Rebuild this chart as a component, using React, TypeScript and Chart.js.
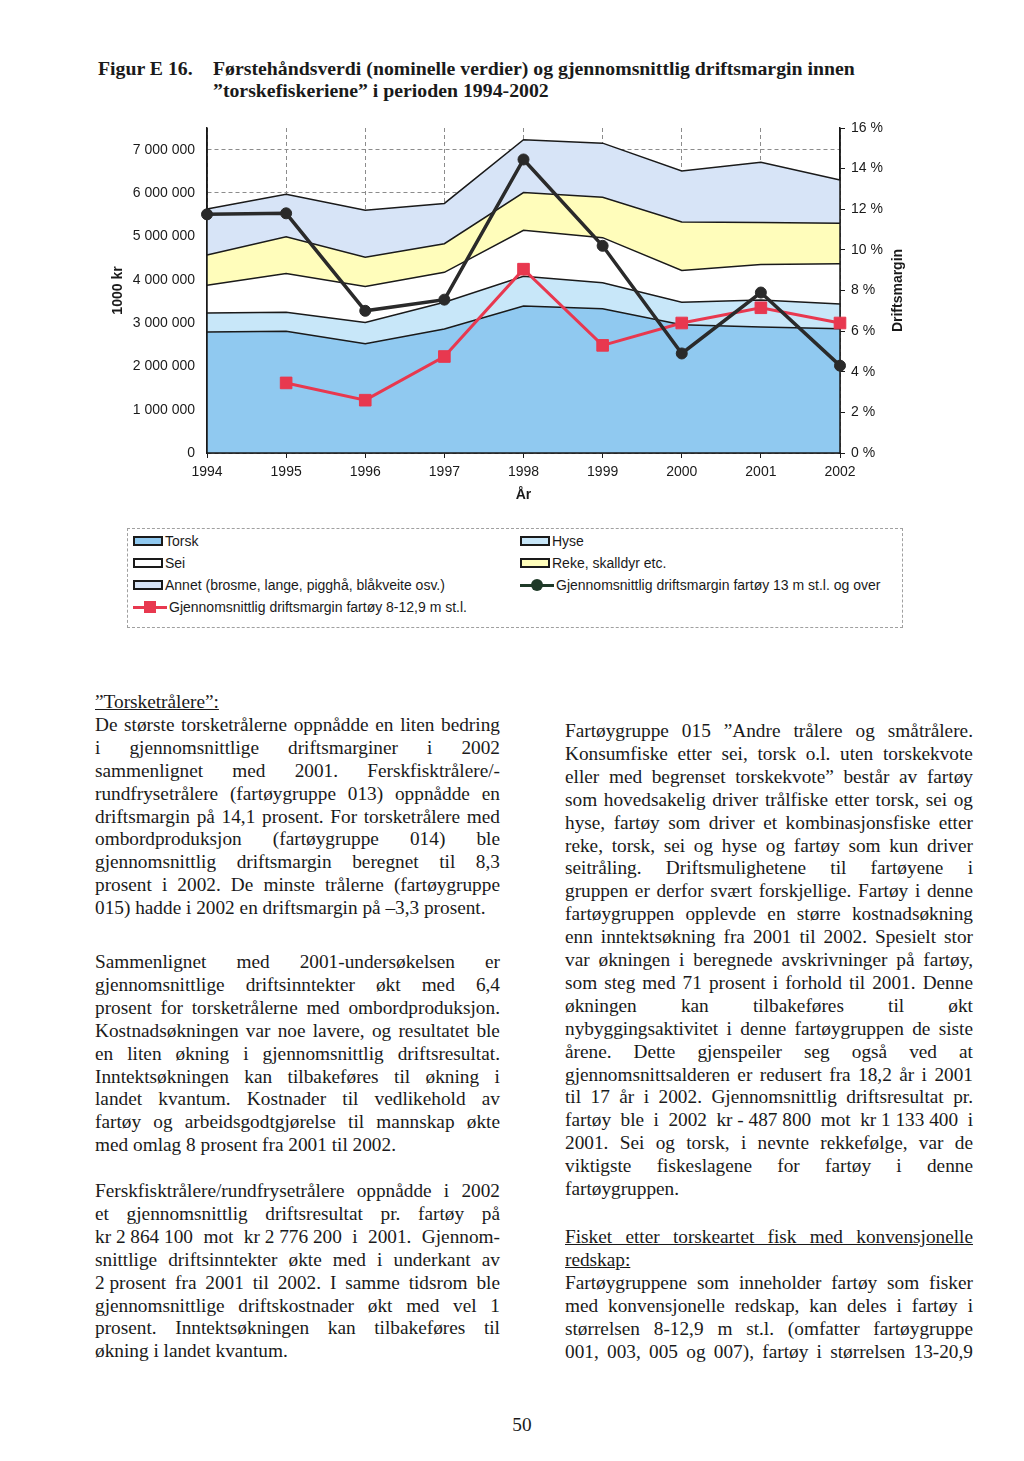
import React, { useEffect, useRef } from "react";
import { Chart, registerables } from "chart.js";

Chart.register(...registerables);

// ---------- DATA ----------
const years = ["1994", "1995", "1996", "1997", "1998", "1999", "2000", "2001", "2002"];
// Førstehåndsverdi, 1000 kr (stacked)
const torsk = [2790000, 2810000, 2520000, 2860000, 3390000, 3330000, 2960000, 2910000, 2870000];
const hyse = [440000, 440000, 490000, 620000, 690000, 600000, 520000, 620000, 570000];
const sei = [640000, 890000, 830000, 690000, 1060000, 1040000, 730000, 820000, 930000];
const reke = [700000, 850000, 680000, 660000, 870000, 930000, 1120000, 970000, 930000];
const annet = [1060000, 980000, 1080000, 930000, 1220000, 1250000, 1180000, 1390000, 1000000];
// Driftsmargin, %
const margin13 = [11.75, 11.8, 7.0, 7.55, 14.45, 10.2, 4.9, 7.9, 4.3];
const margin8 = [null, 3.45, 2.6, 4.75, 9.05, 5.3, 6.4, 7.15, 6.4];

// Tick values
const leftTicks = [0, 1000000, 2000000, 3000000, 4000000, 5000000, 6000000, 7000000];
const rightTicks = [0, 2, 4, 6, 8, 10, 12, 14, 16];

const seriesNames = [
  "Torsk",
  "Hyse",
  "Sei",
  "Reke, skalldyr etc.",
  "Annet (brosme, lange, pigghå, blåkveite osv.)",
  "Gjennomsnittlig driftsmargin fartøy 13 m st.l. og over",
  "Gjennomsnittlig driftsmargin fartøy 8-12,9 m st.l.",
];
const leftAxisTitle = "1000 kr";
const rightAxisTitle = "Driftsmargin";
const xAxisTitle = "År";

// ---------- STYLE ----------
const areaColors = ["#90c9f0", "#c8e7f9", "#ffffff", "#fffdbb", "#d7e4f7"];
const blackLine = "#2a2a2a";
const redLine = "#e8384f";
const ink = "#1a1a1a";
const sans = '"Liberation Sans", Arial, sans-serif';
const serif = '"Liberation Serif", "Times New Roman", serif';

const W = 1024;
const CANVAS_TOP = 100;
const CANVAS_H = 420;
const PLOT_L = 207;
const PLOT_R = 840;
const PLOT_T = 128;
const PLOT_B = 453;

function fmtSpace(v: number) {
  return String(Math.round(v)).replace(/\B(?=(\d{3})+(?!\d))/g, " ");
}

const overlayPlugin = {
  id: "overlay",
  afterDatasetDraw(chart: any, args: any) {
    if (args.index !== 0) return;
    const { ctx, chartArea: a } = chart;
    ctx.save();
    ctx.strokeStyle = ink;
    ctx.lineWidth = 1.5;
    ctx.setLineDash([]);
    ctx.beginPath();
    ctx.moveTo(a.left, a.top);
    ctx.lineTo(a.left, a.bottom);
    ctx.lineTo(a.right, a.bottom);
    ctx.lineTo(a.right, a.top);
    ctx.stroke();
    ctx.restore();
  },
  afterDraw(chart: any) {
    const { ctx, chartArea: a } = chart;
    const midY = (a.top + a.bottom) / 2;
    const drawV = (text: string, x: number) => {
      ctx.save();
      ctx.fillStyle = ink;
      ctx.font = `bold 14px ${sans}`;
      ctx.textAlign = "center";
      ctx.textBaseline = "middle";
      ctx.translate(x, midY);
      ctx.rotate(-Math.PI / 2);
      ctx.fillText(text, 0, 0);
      ctx.restore();
    };
    drawV(leftAxisTitle, 118);
    drawV(rightAxisTitle, 898);
  },
};

function ChartBlock() {
  const ref = useRef<HTMLCanvasElement | null>(null);
  useEffect(() => {
    if (!ref.current) return;
    const areas = [torsk, hyse, sei, reke, annet];
    const datasets: any[] = areas.map((d, i) => ({
      type: "line",
      label: seriesNames[i],
      data: d,
      yAxisID: "y",
      fill: i === 0 ? "origin" : "-1",
      backgroundColor: areaColors[i],
      borderColor: ink,
      borderWidth: 1.5,
      pointRadius: 0,
      tension: 0,
      order: 1,
    }));
    datasets.push({
      type: "line",
      label: seriesNames[5],
      data: margin13,
      yAxisID: "y1",
      fill: false,
      borderColor: blackLine,
      borderWidth: 3.5,
      pointStyle: "circle",
      pointRadius: 5.5,
      pointBackgroundColor: blackLine,
      pointBorderColor: blackLine,
      pointBorderWidth: 1,
      tension: 0,
      order: 0,
    });
    datasets.push({
      type: "line",
      label: seriesNames[6],
      data: margin8,
      yAxisID: "y1",
      fill: false,
      borderColor: redLine,
      borderWidth: 3,
      pointStyle: "rect",
      pointRadius: 8.2,
      pointBackgroundColor: redLine,
      pointBorderColor: redLine,
      pointBorderWidth: 1,
      spanGaps: false,
      tension: 0,
      order: 0,
    });

    const tickFont = { family: sans, size: 14 };
    const chart = new Chart(ref.current, {
      type: "line",
      data: { labels: years, datasets },
      options: {
        animation: false,
        responsive: false,
        devicePixelRatio: 1,
        layout: { padding: { top: PLOT_T - CANVAS_TOP, left: 0, right: 0, bottom: 0 } },
        plugins: {
          legend: { display: false },
          tooltip: { enabled: false },
          title: { display: false },
        },
        scales: {
          x: {
            type: "category",
            offset: false,
            grid: {
              display: true,
              color: "#8c8c8c",
              lineWidth: 1,
              drawTicks: true,
              tickLength: 5,
              tickColor: ink,
              tickWidth: 1,
              tickBorderDash: [],
            },
            border: { display: true, color: ink, width: 1.5, dash: [4, 3] },
            ticks: { font: tickFont, color: ink, padding: 6, maxRotation: 0, autoSkip: false },
            title: {
              display: true,
              text: xAxisTitle,
              color: ink,
              font: { family: sans, size: 14, weight: "bold" },
              padding: { top: 0, bottom: 16.6 },
            },
            afterFit: (s: any) => {
              s.height = CANVAS_TOP + CANVAS_H - PLOT_B;
            },
          },
          y: {
            type: "linear",
            position: "left",
            stacked: true,
            min: 0,
            max: 7500000,
            afterBuildTicks: (s: any) => {
              s.ticks = leftTicks.map((v) => ({ value: v }));
            },
            ticks: {
              font: tickFont,
              color: ink,
              padding: 12,
              callback: (v: any) => fmtSpace(Number(v)),
            },
            grid: { color: "#8c8c8c", lineWidth: 1, drawTicks: false },
            border: { display: true, color: ink, width: 1.5, dash: [4, 3] },
            afterFit: (s: any) => {
              s.width = PLOT_L;
            },
          },
          y1: {
            type: "linear",
            position: "right",
            min: 0,
            max: 16,
            afterBuildTicks: (s: any) => {
              s.ticks = rightTicks.map((v) => ({ value: v }));
            },
            ticks: {
              font: tickFont,
              color: ink,
              padding: 6,
              callback: (v: any) => `${v} %`,
            },
            grid: {
              drawOnChartArea: false,
              drawTicks: true,
              tickLength: 5,
              tickColor: ink,
              tickBorderDash: [],
            },
            border: { display: true, color: ink, width: 1.5 },
            afterFit: (s: any) => {
              s.width = W - PLOT_R;
            },
          },
        },
      } as any,
      plugins: [overlayPlugin],
    });
    return () => chart.destroy();
  }, []);
  return (
    <canvas
      ref={ref}
      width={W}
      height={CANVAS_H}
      style={{ position: "absolute", left: 0, top: CANVAS_TOP, width: W, height: CANVAS_H }}
    />
  );
}

// ---------- LEGEND ----------
function Swatch({ color }: { color: string }) {
  return (
    <span
      style={{
        display: "inline-block",
        width: 30,
        height: 10,
        background: color,
        border: `2px solid ${ink}`,
        boxSizing: "border-box",
        marginRight: 2,
      }}
    />
  );
}
function LineIcon({ color, square }: { color: string; square: boolean }) {
  return (
    <span style={{ position: "relative", display: "inline-block", width: 34, height: 12, marginRight: 2 }}>
      <span style={{ position: "absolute", left: 0, right: 0, top: 4.5, height: 3, background: color }} />
      <span
        style={{
          position: "absolute",
          left: 11,
          top: 0,
          width: 12,
          height: 12,
          background: color,
          borderRadius: square ? 0 : 6,
        }}
      />
    </span>
  );
}

function Legend() {
  const rowsY = [541, 563, 585, 607];
  const colX = [133, 520];
  const items = seriesNames.map((name, i) => {
    const row = Math.floor(i / 2);
    const col = i % 2;
    let icon;
    if (i < 5) icon = <Swatch color={areaColors[i]} />;
    else if (i === 5) icon = <LineIcon color="#1f3a28" square={false} />;
    else icon = <LineIcon color={redLine} square={true} />;
    return (
      <div
        key={name}
        style={{
          position: "absolute",
          left: colX[col],
          top: rowsY[row] - 9,
          height: 18,
          display: "flex",
          alignItems: "center",
          whiteSpace: "nowrap",
          fontFamily: sans,
          fontSize: 14,
          color: ink,
        }}
      >
        {icon}
        <span>{name}</span>
      </div>
    );
  });
  return (
    <>
      <div
        style={{
          position: "absolute",
          left: 127,
          top: 528,
          width: 776,
          height: 100,
          border: "1px dashed #a0a0a0",
          boxSizing: "border-box",
        }}
      />
      {items}
    </>
  );
}

// ---------- TEXT ----------
const PITCH = 22.9;
const FONT = 19.3;
type L = { t: string; j?: boolean; u?: boolean };

function TextLine({ line, left, width, center }: { line: L; left: number; width: number; center: number }) {
  const base: any = {
    position: "absolute",
    left,
    width,
    top: center - 13,
    height: PITCH,
    lineHeight: `${PITCH}px`,
    fontFamily: serif,
    fontSize: FONT,
    color: ink,
    whiteSpace: "nowrap",
  };
  if (line.j && line.u) {
    return (
      <div style={{ ...base, whiteSpace: "normal", textAlign: "justify", textAlignLast: "justify", textDecoration: "underline" }}>
        {line.t}
      </div>
    );
  }
  if (line.j) {
    const words = line.t.split(" ");
    return (
      <div style={{ ...base, display: "flex", justifyContent: "space-between" }}>
        {words.map((w, k) => (
          <span key={k}>{w}</span>
        ))}
      </div>
    );
  }
  return <div style={{ ...base, textDecoration: line.u ? "underline" : "none" }}>{line.t}</div>;
}

function Para({ lines, left, width, first }: { lines: L[]; left: number; width: number; first: number }) {
  return (
    <>
      {lines.map((ln, i) => (
        <TextLine key={i} line={ln} left={left} width={width} center={first + i * PITCH} />
      ))}
    </>
  );
}

const N = "\u00a0";
const leftP1: L[] = [
  { t: "”Torsketrålere”:", u: true },
  { t: "De største torsketrålerne oppnådde en liten bedring", j: true },
  { t: "i gjennomsnittlige driftsmarginer i 2002", j: true },
  { t: "sammenlignet med 2001. Ferskfisktrålere/-", j: true },
  { t: "rundfrysetrålere (fartøygruppe 013) oppnådde en", j: true },
  { t: "driftsmargin på 14,1 prosent. For torsketrålere med", j: true },
  { t: "ombordproduksjon (fartøygruppe 014) ble", j: true },
  { t: "gjennomsnittlig driftsmargin beregnet til 8,3", j: true },
  { t: "prosent i 2002. De minste trålerne (fartøygruppe", j: true },
  { t: "015) hadde i 2002 en driftsmargin på –3,3 prosent." },
];
const leftP2: L[] = [
  { t: "Sammenlignet med 2001-undersøkelsen er", j: true },
  { t: "gjennomsnittlige driftsinntekter økt med 6,4", j: true },
  { t: "prosent for torsketrålerne med ombordproduksjon.", j: true },
  { t: "Kostnadsøkningen var noe lavere, og resultatet ble", j: true },
  { t: "en liten økning i gjennomsnittlig driftsresultat.", j: true },
  { t: "Inntektsøkningen kan tilbakeføres til økning i", j: true },
  { t: "landet kvantum. Kostnader til vedlikehold av", j: true },
  { t: "fartøy og arbeidsgodtgjørelse til mannskap økte", j: true },
  { t: "med omlag 8 prosent fra 2001 til 2002." },
];
const leftP3: L[] = [
  { t: "Ferskfisktrålere/rundfrysetrålere oppnådde i 2002", j: true },
  { t: "et gjennomsnittlig driftsresultat pr. fartøy på", j: true },
  { t: `kr${N}2${N}864${N}100 mot kr${N}2${N}776${N}200 i 2001. Gjennom-`, j: true },
  { t: "snittlige driftsinntekter økte med i underkant av", j: true },
  { t: `2${N}prosent fra 2001 til 2002. I samme tidsrom ble`, j: true },
  { t: "gjennomsnittlige driftskostnader økt med vel 1", j: true },
  { t: "prosent. Inntektsøkningen kan tilbakeføres til", j: true },
  { t: "økning i landet kvantum." },
];
const rightP1: L[] = [
  { t: "Fartøygruppe 015 ”Andre trålere og småtrålere.", j: true },
  { t: "Konsumfiske etter sei, torsk o.l. uten torskekvote", j: true },
  { t: "eller med begrenset torskekvote” består av fartøy", j: true },
  { t: "som hovedsakelig driver trålfiske etter torsk, sei og", j: true },
  { t: "hyse, fartøy som driver et kombinasjonsfiske etter", j: true },
  { t: "reke, torsk, sei og hyse og fartøy som kun driver", j: true },
  { t: "seitråling. Driftsmulighetene til fartøyene i", j: true },
  { t: "gruppen er derfor svært forskjellige. Fartøy i denne", j: true },
  { t: "fartøygruppen opplevde en større kostnadsøkning", j: true },
  { t: "enn inntektsøkning fra 2001 til 2002. Spesielt stor", j: true },
  { t: "var økningen i beregnede avskrivninger på fartøy,", j: true },
  { t: "som steg med 71 prosent i forhold til 2001. Denne", j: true },
  { t: "økningen kan tilbakeføres til økt", j: true },
  { t: "nybyggingsaktivitet i denne fartøygruppen de siste", j: true },
  { t: "årene. Dette gjenspeiler seg også ved at", j: true },
  { t: "gjennomsnittsalderen er redusert fra 18,2 år i 2001", j: true },
  { t: "til 17 år i 2002. Gjennomsnittlig driftsresultat pr.", j: true },
  { t: `fartøy ble i 2002 kr${N}-${N}487${N}800 mot kr${N}1${N}133${N}400 i`, j: true },
  { t: "2001. Sei og torsk, i nevnte rekkefølge, var de", j: true },
  { t: "viktigste fiskeslagene for fartøy i denne", j: true },
  { t: "fartøygruppen." },
];
const rightP2: L[] = [
  { t: "Fisket etter torskeartet fisk med konvensjonelle", j: true, u: true },
  { t: "redskap:", u: true },
  { t: "Fartøygruppene som inneholder fartøy som fisker", j: true },
  { t: "med konvensjonelle redskap, kan deles i fartøy i", j: true },
  { t: "størrelsen 8-12,9 m st.l. (omfatter fartøygruppe", j: true },
  { t: "001, 003, 005 og 007), fartøy i størrelsen 13-20,9", j: true },
];

const titleLabel = "Figur E 16.";
const titleLines = [
  "Førstehåndsverdi (nominelle verdier) og gjennomsnittlig driftsmargin innen",
  "”torskefiskeriene” i perioden 1994-2002",
];
const pageNumber = "50";

export default function App() {
  const titleStyle: any = {
    position: "absolute",
    fontFamily: serif,
    fontWeight: "bold",
    fontSize: 19.8,
    lineHeight: "22px",
    color: ink,
    whiteSpace: "nowrap",
  };
  return (
    <div
      style={{
        position: "absolute",
        left: 0,
        top: 0,
        width: 1024,
        height: 1461,
        background: "#ffffff",
        overflow: "hidden",
      }}
    >
      <div style={{ ...titleStyle, left: 98, top: 69 - 12 }}>{titleLabel}</div>
      <div style={{ ...titleStyle, left: 213, top: 69 - 12 }}>{titleLines[0]}</div>
      <div style={{ ...titleStyle, left: 213, top: 91 - 12 }}>{titleLines[1]}</div>
      <ChartBlock />
      <Legend />
      <Para lines={leftP1} left={95} width={405} first={704} />
      <Para lines={leftP2} left={95} width={405} first={964} />
      <Para lines={leftP3} left={95} width={405} first={1193} />
      <Para lines={rightP1} left={565} width={408} first={733} />
      <Para lines={rightP2} left={565} width={408} first={1239} />
      <div
        style={{
          position: "absolute",
          left: 522 - 20,
          width: 40,
          top: 1427 - 13,
          textAlign: "center",
          fontFamily: serif,
          fontSize: FONT,
          lineHeight: `${PITCH}px`,
          color: ink,
        }}
      >
        {pageNumber}
      </div>
    </div>
  );
}
